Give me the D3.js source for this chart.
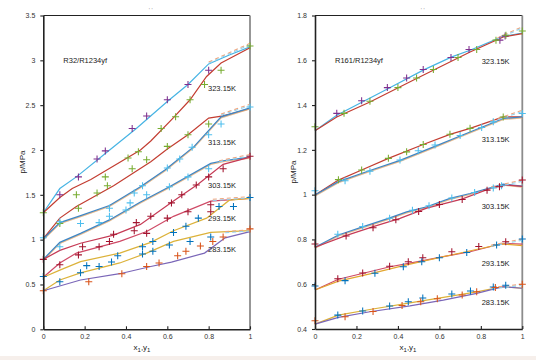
<!DOCTYPE html>
<html><head><meta charset="utf-8">
<script src="https://cdn.jsdelivr.net/npm/d3@7"></script>
<style>
html,body{margin:0;padding:0;background:#fff;}
svg{display:block;font-family:"Liberation Sans",Arial,sans-serif;}
</style></head>
<body><svg id="c" width="536" height="360"></svg>
<script>
// ---------- DATA ----------
const temperatures = ["323.15K","313.15K","303.15K","293.15K","283.15K"];
const xTicks = [0,0.2,0.4,0.6,0.8,1];
const yTicksLeft = [0,0.5,1,1.5,2,2.5,3,3.5];
const yTicksRight = [0.4,0.6,0.8,1,1.2,1.4,1.6,1.8];

// Left panel: R32/R1234yf
const L323_lineA = [[0,1.30],[0.08,1.57],[0.16,1.70],[0.30,1.96],[0.45,2.24],[0.60,2.54],[0.70,2.73],[0.80,2.96],[0.90,3.06],[1,3.15]];
const L323_lineB = [[0,1.30],[0.08,1.47],[0.14,1.57],[0.23,1.67],[0.47,2.00],[0.52,2.10],[0.63,2.36],[0.71,2.56],[0.79,2.82],[0.86,2.97],[1,3.14]];
const L323_dash  = [[0.80,2.98],[1,3.19]];
const L323_mA = [[0.08,1.50],[0.17,1.70],[0.26,1.90],[0.30,1.99],[0.43,2.24],[0.50,2.38],[0.60,2.56],[0.70,2.73],[0.80,2.89]];
const L323_mB = [[0,1.30],[0.16,1.50],[0.30,1.70],[0.41,1.91],[0.46,1.98],[0.57,2.24],[0.64,2.37],[0.71,2.56],[0.78,2.73],[0.86,2.89],[1,3.16]];

const L313_lineA = [[0,1.01],[0.08,1.24],[0.16,1.37],[0.34,1.60],[0.52,1.87],[0.60,2.01],[0.70,2.17],[0.80,2.355],[0.87,2.38],[1,2.46]];
const L313_lineB = [[0,1.01],[0.08,1.19],[0.17,1.26],[0.32,1.38],[0.47,1.59],[0.59,1.78],[0.73,2.04],[0.86,2.37],[1,2.47]];
const L313_dash  = [[0.86,2.40],[1,2.51]];
const L313_mA = [[0.08,1.18],[0.17,1.35],[0.26,1.52],[0.31,1.60],[0.43,1.79],[0.50,1.89],[0.60,2.04],[0.70,2.17],[0.80,2.29]];
const L313_mB = [[0,1.02],[0.08,1.20],[0.32,1.35],[0.44,1.52],[0.48,1.60],[0.60,1.80],[0.66,1.90],[0.72,2.03],[0.80,2.17],[0.86,2.29],[1,2.48]];

const L303_lineA = [[0,0.78],[0.08,0.97],[0.18,1.07],[0.32,1.22],[0.47,1.42],[0.61,1.59],[0.81,1.85],[0.87,1.88],[1,1.92]];
const L303_lineB = [[0,0.78],[0.08,0.88],[0.18,0.96],[0.34,1.05],[0.47,1.17],[0.63,1.43],[0.75,1.62],[0.87,1.84],[1,1.92]];
const L303_dash  = [[0.85,1.88],[1,1.95]];
const L303_mA = [[0.08,0.92],[0.18,1.18],[0.27,1.19],[0.32,1.26],[0.40,1.33],[0.42,1.41],[0.50,1.50],[0.61,1.59],[0.70,1.70],[0.80,1.79]];
const L303_mB = [[0,0.78],[0.19,0.92],[0.34,1.06],[0.45,1.19],[0.52,1.26],[0.62,1.41],[0.67,1.50],[0.74,1.61],[0.80,1.70],[0.87,1.79],[1,1.93]];

const L293_lineA = [[0,0.58],[0.08,0.74],[0.16,0.85],[0.37,0.98],[0.50,1.09],[0.63,1.26],[0.81,1.43],[1,1.46]];
const L293_lineB = [[0,0.58],[0.08,0.66],[0.18,0.755],[0.37,0.85],[0.52,0.97],[0.63,1.10],[0.79,1.24],[0.90,1.44],[1,1.46]];
const L293_dash  = [[0.82,1.45],[1,1.48]];
const L293_mA = [[0.08,0.72],[0.17,0.83],[0.27,0.92],[0.32,0.98],[0.44,1.10],[0.50,1.07],[0.60,1.24],[0.70,1.31],[0.81,1.31],[0.81,1.39]];
const L293_mB = [[0,0.59],[0.36,0.82],[0.48,0.92],[0.53,0.98],[0.63,1.08],[0.69,1.15],[0.75,1.24],[0.85,1.37],[0.92,1.37],[1,1.47]];

const L283_lineA = [[0,0.43],[0.08,0.55],[0.18,0.63],[0.37,0.74],[0.50,0.85],[0.63,0.98],[0.81,1.08],[1,1.10]];
const L283_lineB = [[0,0.43],[0.18,0.55],[0.37,0.62],[0.52,0.70],[0.62,0.75],[0.78,0.85],[0.88,1.02],[1,1.09]];
const L283_dash  = [[0.88,1.09],[1,1.11]];
const L283_mA = [[0.08,0.53],[0.18,0.63],[0.21,0.71],[0.27,0.70],[0.33,0.75],[0.48,0.84],[0.53,0.87],[0.61,0.94],[0.71,0.98],[0.81,1.03]];
const L283_mB = [[0,0.43],[0.22,0.53],[0.38,0.62],[0.50,0.70],[0.56,0.74],[0.65,0.82],[0.69,0.87],[0.76,0.93],[0.82,0.98],[0.87,1.03],[1,1.12]];

// Right panel: R161/R1234yf
const R323_lineA = [[0,1.285],[0.105,1.355],[0.354,1.474],[0.522,1.556],[0.66,1.615],[0.748,1.645],[0.908,1.707],[1,1.722]];
const R323_lineB = [[0,1.285],[0.105,1.347],[0.265,1.414],[0.49,1.519],[0.748,1.637],[0.908,1.704],[1,1.719]];
const R323_dash  = [[0.88,1.70],[1,1.75]];
const R323_mA = [[0.105,1.363],[0.225,1.419],[0.349,1.478],[0.442,1.521],[0.522,1.559],[0.656,1.612],[0.743,1.648],[0.892,1.69],[0.917,1.709]];
const R323_mB = [[0,1.303],[0.14,1.363],[0.265,1.417],[0.40,1.478],[0.49,1.521],[0.571,1.559],[0.69,1.612],[0.78,1.648],[0.873,1.69],[0.921,1.712],[1,1.731]];

const R313_lineA = [[0,0.998],[0.113,1.065],[0.225,1.11],[0.354,1.162],[0.522,1.224],[0.651,1.269],[0.748,1.296],[0.908,1.347],[1,1.347]];
const R313_lineB = [[0,0.998],[0.113,1.058],[0.265,1.108],[0.41,1.153],[0.587,1.219],[0.70,1.262],[0.908,1.34],[1,1.347]];
const R313_dash  = [[0.85,1.33],[1,1.377]];
const R313_mA = [[0.113,1.067],[0.225,1.11],[0.354,1.162],[0.442,1.191],[0.522,1.224],[0.651,1.27],[0.748,1.296],[0.908,1.347]];
const R313_mB = [[0,1.017],[0.145,1.062],[0.265,1.105],[0.41,1.155],[0.498,1.196],[0.579,1.222],[0.70,1.264],[0.804,1.30],[0.86,1.325],[1,1.362]];

const R303_lineA = [[0,0.765],[0.113,0.82],[0.233,0.857],[0.354,0.894],[0.442,0.923],[0.539,0.946],[0.651,0.983],[0.748,1.005],[0.908,1.047],[1,1.038]];
const R303_lineB = [[0,0.765],[0.145,0.816],[0.281,0.857],[0.41,0.894],[0.539,0.94],[0.708,0.98],[0.868,1.035],[0.925,1.043],[1,1.037]];
const R303_dash  = [[0.85,1.035],[1,1.065]];
const R303_mA = [[0.11,0.823],[0.23,0.858],[0.36,0.895],[0.47,0.93],[0.55,0.95],[0.66,0.985],[0.77,1.01],[0.86,1.03],[0.9,1.04]];
const R303_mB = [[0,0.78],[0.15,0.815],[0.28,0.852],[0.39,0.888],[0.5,0.925],[0.6,0.956],[0.71,0.978],[0.83,1.02],[0.89,1.035],[1,1.065]];

const R293_lineA = [[0,0.574],[0.113,0.622],[0.233,0.649],[0.362,0.678],[0.49,0.70],[0.619,0.723],[0.748,0.745],[0.876,0.775],[0.925,0.782],[1,0.779]];
const R293_lineB = [[0,0.574],[0.113,0.614],[0.265,0.646],[0.426,0.683],[0.684,0.736],[0.828,0.765],[0.9,0.78],[1,0.772]];
const R293_dash  = [[0.85,0.775],[1,0.802]];
const R293_mA = [[0.11,0.624],[0.23,0.65],[0.36,0.68],[0.45,0.70],[0.52,0.718],[0.66,0.745],[0.79,0.768],[0.92,0.79]];
const R293_mB = [[0,0.592],[0.145,0.616],[0.289,0.649],[0.426,0.678],[0.515,0.70],[0.60,0.718],[0.732,0.742],[0.876,0.775],[1,0.802]];

const R283_lineA = [[0,0.422],[0.113,0.462],[0.265,0.487],[0.458,0.517],[0.619,0.541],[0.78,0.566],[0.908,0.589],[1,0.582]];
const R283_lineB = [[0,0.422],[0.113,0.452],[0.265,0.477],[0.458,0.503],[0.619,0.529],[0.78,0.559],[0.908,0.589],[1,0.582]];
const R283_dash  = [[0.85,0.585],[1,0.60]];
const R283_mA = [[0.11,0.462],[0.23,0.48],[0.36,0.503],[0.45,0.522],[0.52,0.538],[0.66,0.556],[0.75,0.57],[0.86,0.588],[0.92,0.595]];
const R283_mB = [[0,0.437],[0.145,0.455],[0.28,0.478],[0.42,0.505],[0.51,0.522],[0.59,0.535],[0.71,0.552],[0.78,0.566],[0.87,0.585],[1,0.60]];

// ---------- STYLE ----------
const C = {lblue:"#46b4e4", red:"#c33d31", pinkred:"#c63a55", rose:"#cf4a66", yellow:"#dcb23a", amber:"#e3a62f",
  purpleL:"#7a66b8", blueT:"#3d86c6", tan:"#e2ad78",
  mPurple:"#7E2F8E", mGreen:"#77AC30", mCyan:"#4DBEEE", mDark:"#A2142F", mBlue:"#0072BD", mOrange:"#D95319"};

const leftGroups = [
  {A:L323_lineA,B:L323_lineB,D:L323_dash,mA:L323_mA,mB:L323_mB, cA:C.lblue,cB:C.red, tA:false,tB:false, kA:C.mPurple,kB:C.mGreen},
  {A:L313_lineA,B:L313_lineB,D:L313_dash,mA:L313_mA,mB:L313_mB, cA:C.red,cB:C.blueT, tA:false,tB:true, kA:C.mGreen,kB:C.mCyan},
  {A:L303_lineA,B:L303_lineB,D:L303_dash,mA:L303_mA,mB:L303_mB, cA:C.blueT,cB:C.pinkred, tA:true,tB:false, kA:C.mCyan,kB:C.mDark},
  {A:L293_lineA,B:L293_lineB,D:L293_dash,mA:L293_mA,mB:L293_mB, cA:C.rose,cB:C.yellow, tA:false,tB:false, kA:C.mDark,kB:C.mBlue},
  {A:L283_lineA,B:L283_lineB,D:L283_dash,mA:L283_mA,mB:L283_mB, cA:C.yellow,cB:C.purpleL, tA:false,tB:false, kA:C.mBlue,kB:C.mOrange}
];
const rightGroups = [
  {A:R323_lineA,B:R323_lineB,D:R323_dash,mA:R323_mA,mB:R323_mB, cA:C.lblue,cB:C.red, tA:false,tB:false, kA:C.mPurple,kB:C.mGreen},
  {A:R313_lineA,B:R313_lineB,D:R313_dash,mA:R313_mA,mB:R313_mB, cA:C.red,cB:C.blueT, tA:false,tB:true, kA:C.mGreen,kB:C.mCyan},
  {A:R303_lineA,B:R303_lineB,D:R303_dash,mA:R303_mA,mB:R303_mB, cA:C.blueT,cB:C.pinkred, tA:true,tB:false, kA:C.mCyan,kB:C.mDark},
  {A:R293_lineA,B:R293_lineB,D:R293_dash,mA:R293_mA,mB:R293_mB, cA:C.rose,cB:C.amber, tA:false,tB:false, kA:C.mDark,kB:C.mBlue},
  {A:R283_lineA,B:R283_lineB,D:R283_dash,mA:R283_mA,mB:R283_mB, cA:C.yellow,cB:C.purpleL, tA:false,tB:false, kA:C.mBlue,kB:C.mOrange}
];

const svg = d3.select("#c");
svg.append("rect").attr("x",0).attr("y",356).attr("width",536).attr("height",4).attr("fill","#f6efeb");

function drawPanel(cfg){
  const x = d3.scaleLinear().domain([0,1]).range(cfg.xr);
  const y = d3.scaleLinear().domain(cfg.yd).range(cfg.yr);
  const g = svg.append("g");
  const line = d3.line().x(d=>x(d[0])).y(d=>y(d[1]));

  g.append("line").attr("x1",x(0)).attr("x2",x(1)).attr("y1",y(cfg.yd[1])).attr("y2",y(cfg.yd[1])).attr("stroke","#222").attr("stroke-width",1.2);
  g.append("line").attr("x1",x(1)).attr("x2",x(1)).attr("y1",y(cfg.yd[1])).attr("y2",y(cfg.yd[0])).attr("stroke","#8c8c8c").attr("stroke-width",1.8);

  cfg.groups.forEach(gr=>{
    [["A",gr.cA,gr.tA],["B",gr.cB,gr.tB]].forEach(([k,col,tan])=>{
      if(tan){
        g.append("path").attr("d",line(gr[k])).attr("fill","none").attr("stroke",C.tan).attr("stroke-width",1.4).attr("opacity",0.85).attr("transform","translate(0,0.9)");
      }
      g.append("path").attr("d",line(gr[k])).attr("fill","none").attr("stroke",col).attr("stroke-width",1.2);
    });
    g.append("path").attr("d",line(gr.D)).attr("fill","none").attr("stroke","#f2a47a").attr("stroke-width",1.1).attr("stroke-dasharray","4,3");
    g.append("path").attr("d",line(gr.D)).attr("fill","none").attr("stroke","#93d2ef").attr("stroke-width",1.1).attr("stroke-dasharray","4,3").attr("transform","translate(0,1.2)");
  });
  cfg.groups.forEach(gr=>{
    [["mA",gr.kA],["mB",gr.kB]].forEach(([k,col])=>{
      g.selectAll(null).data(gr[k]).enter().append("path")
        .attr("d","M-3.5,0H3.5M0,-3.5V3.5")
        .attr("transform",d=>`translate(${x(d[0])},${y(d[1])})`)
        .attr("stroke",col).attr("stroke-width",1.05).attr("fill","none");
    });
  });

  const ax = g.append("g").attr("transform",`translate(0,${y(cfg.yd[0])})`)
    .call(d3.axisBottom(x).tickValues(xTicks).tickFormat(d3.format("~g")).tickSizeInner(-3).tickSizeOuter(0).tickPadding(5));
  const ay = g.append("g").attr("transform",`translate(${x(0)},0)`)
    .call(d3.axisLeft(y).tickValues(cfg.yt).tickFormat(d3.format("~g")).tickSizeInner(3).tickSizeOuter(0).tickPadding(5));
  [ax,ay].forEach(a=>{
    a.select(".domain").attr("stroke","#222").attr("stroke-width",1.6);
    a.selectAll(".tick line").attr("stroke","#222").attr("stroke-width",1.1);
    a.selectAll(".tick text").attr("fill","#333").attr("font-size",7).attr("font-family","Liberation Sans, Arial, sans-serif");
  });

  g.append("text").attr("x",x(0)+20).attr("y",y(cfg.titleY)).attr("dy","0.35em").attr("font-size",7.5).attr("fill","#222").text(cfg.title);
  temperatures.forEach((t,i)=>{
    g.append("text").attr("x",x(cfg.tx)).attr("y",y(cfg.ty[i])).attr("dy","0.35em").attr("font-size",7.5).attr("fill","#222").text(t);
  });
  g.append("text").attr("transform",`translate(${cfg.ylx},${cfg.yly}) rotate(-90)`).attr("text-anchor","middle").attr("dy","0.35em").attr("font-size",8).attr("fill","#222").text("p/MPa");
  const xl = g.append("text").attr("x",cfg.xlx).attr("y",350).attr("text-anchor","middle").attr("font-size",8).attr("fill","#222");
  xl.append("tspan").text("x");
  xl.append("tspan").attr("dy",2).attr("font-size",6).text("1");
  xl.append("tspan").attr("dy",-2).text(",y");
  xl.append("tspan").attr("dy",2).attr("font-size",6).text("1");
  g.append("text").attr("x",(x(0)+x(1))/2+4).attr("y",12).attr("text-anchor","middle").attr("font-size",6).attr("fill","#999").text("' '");
}

drawPanel({xr:[43.3,250], yd:[0,3.5], yr:[329.3,15.5], yt:yTicksLeft, groups:leftGroups,
  title:"R32/R1234yf", titleY:3.0, tx:0.797, ty:[2.69,2.09,1.60,1.24,0.893], ylx:22, yly:162, xlx:142});
drawPanel({xr:[315,522.3], yd:[0.4,1.8], yr:[329,15.5], yt:yTicksRight, groups:rightGroups,
  title:"R161/R1234yf", titleY:1.598, tx:0.804, ty:[1.597,1.246,0.946,0.693,0.519], ylx:293, yly:172, xlx:408});
</script></body></html>
